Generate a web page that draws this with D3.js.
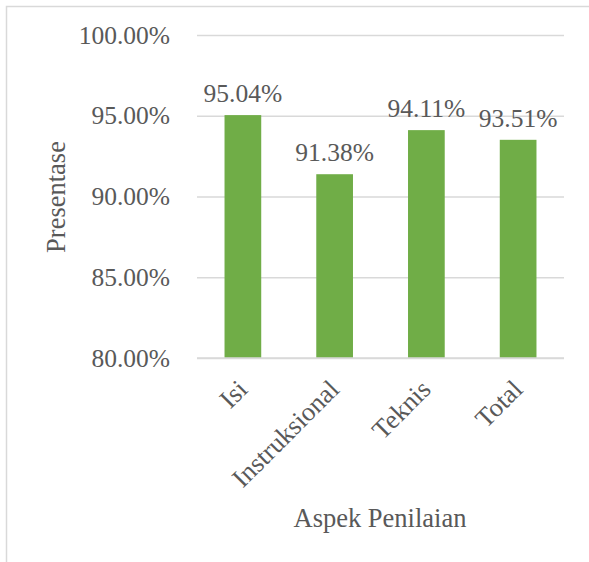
<!DOCTYPE html>
<html><head><meta charset="utf-8">
<script src="https://cdn.jsdelivr.net/npm/d3@7"></script>
<style>body{margin:0;background:#fff}svg{display:block}text{font-family:"Liberation Serif","Times New Roman",serif;fill:#595959}</style>
</head><body>
<script>
const categories = ["Isi", "Instruksional", "Teknis", "Total"];
const values = [95.04, 91.38, 94.11, 93.51];
const yTicks = [80, 85, 90, 95, 100];
const xTitle = "Aspek Penilaian";
const yTitle = "Presentase";

const W = 589, H = 562;
const svg = d3.select("body").append("svg").attr("width", W).attr("height", H);
// outer border (top and left visible)
svg.append("rect").attr("x", 6.5).attr("y", 6.5).attr("width", 620).attr("height", 600)
  .attr("fill", "none").attr("stroke", "#d9d9d9").attr("stroke-width", 1.5);

const L = 197, R = 564, T = 35, B = 358;
const x = d3.scaleBand().domain(categories).range([L, R]).paddingInner(0.6).paddingOuter(0.3);
const y = d3.scaleLinear().domain([80, 100]).range([B, T]);

const fs = 25.5;
const yAxis = d3.axisLeft(y).tickValues(yTicks).tickSize(-(R - L)).tickPadding(27)
  .tickFormat(d => d.toFixed(2) + "%");
const gy = svg.append("g").attr("transform", `translate(${L},0)`).call(yAxis);
gy.select(".domain").remove();
gy.selectAll(".tick line").attr("stroke", "#d9d9d9").attr("stroke-width", 1.5);
gy.selectAll(".tick text").attr("font-size", fs).attr("font-family", "Liberation Serif").attr("fill", "#595959");

svg.selectAll("rect.bar").data(values).join("rect").attr("class", "bar")
  .attr("x", (d, i) => x(categories[i])).attr("width", x.bandwidth())
  .attr("y", d => y(d)).attr("height", d => y(80) - y(d)).attr("fill", "#70ad47");

svg.append("line").attr("x1", L).attr("x2", R).attr("y1", y(80)).attr("y2", y(80))
  .attr("stroke", "#d9d9d9").attr("stroke-width", 1.5);

svg.selectAll("text.lbl").data(values).join("text").attr("class", "lbl")
  .attr("x", (d, i) => x(categories[i]) + x.bandwidth() / 2).attr("y", d => y(d) - 13)
  .attr("text-anchor", "middle").attr("font-size", fs).text(d => d.toFixed(2) + "%");

const xAxis = d3.axisBottom(x).tickSize(0).tickPadding(0);
const gx = svg.append("g").attr("transform", `translate(0,${B})`).call(xAxis);
gx.select(".domain").remove();
gx.selectAll(".tick text").attr("font-size", 26.5).attr("font-family", "Liberation Serif").attr("fill", "#595959")
  .attr("text-anchor", "end").attr("dy", null)
  .attr("transform", "translate(6,33) rotate(-45)");

svg.append("text").attr("x", 380).attr("y", 527).attr("text-anchor", "middle").attr("font-size", 26.5).text(xTitle);
svg.append("text").attr("transform", "translate(65,197) rotate(-90)").attr("text-anchor", "middle").attr("font-size", 26.5).text(yTitle);
</script>
</body></html>
